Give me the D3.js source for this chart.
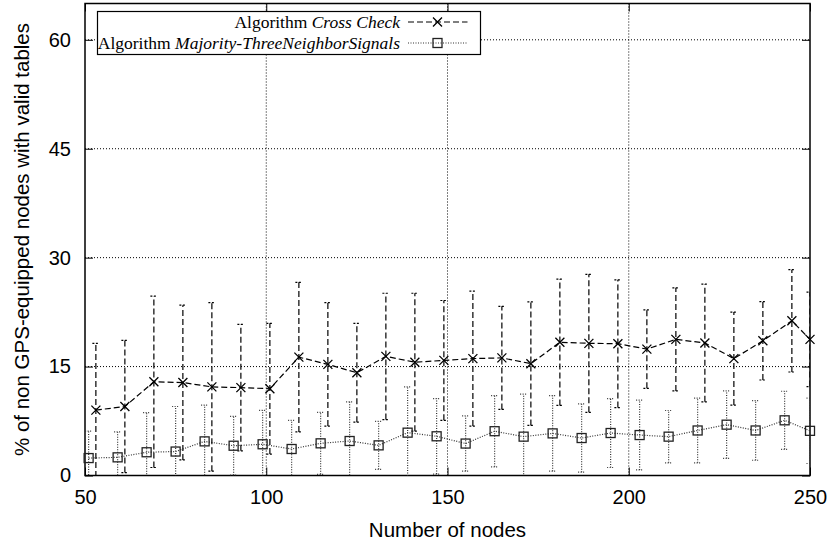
<!DOCTYPE html>
<html>
<head>
<meta charset="utf-8">
<script src="https://cdn.jsdelivr.net/npm/d3@7"></script>
<style>
    body { margin: 0; background: white; }
</style>
</head>
<body>
<div id="winArea"></div>
<script>
// series: Algorithm Cross Check
const ccNodes = [53, 61, 69, 77, 85, 93, 101, 109, 117, 125, 133, 141, 149, 157, 165, 173, 181, 189, 197, 205, 213, 221, 229, 237, 245, 250];
const ccValues = [9.0, 9.5, 12.9, 12.8, 12.2, 12.1, 11.95, 16.3, 15.3, 14.15, 16.4, 15.6, 15.85, 16.1, 16.2, 15.4, 18.35, 18.2, 18.15, 17.4, 18.75, 18.25, 16.1, 18.55, 21.3, 18.75];
const ccErrors = [9.2, 9.1, 11.8, 10.65, 11.6, 8.7, 9.0, 10.3, 8.5, 6.8, 8.7, 9.5, 8.25, 9.3, 7.1, 8.5, 8.7, 9.5, 8.8, 5.4, 7.1, 8.1, 6.4, 5.4, 7.05, 6.5];

// series: Algorithm Majority-ThreeNeighborSignals
const mtNodes = [51, 59, 67, 75, 83, 91, 99, 107, 115, 123, 131, 139, 147, 155, 163, 171, 179, 187, 195, 203, 211, 219, 227, 235, 243, 250];
const mtValues = [2.4, 2.5, 3.2, 3.3, 4.7, 4.1, 4.3, 3.65, 4.43, 4.75, 4.15, 5.9, 5.4, 4.4, 6.1, 5.35, 5.8, 5.16, 5.85, 5.57, 5.35, 6.2, 7.0, 6.2, 7.6, 6.15];
const mtErrors = [3.7, 3.5, 5.45, 6.2, 5.0, 4.05, 4.67, 3.95, 4.27, 5.4, 3.3, 6.3, 5.2, 3.8, 4.9, 5.85, 5.2, 4.7, 4.75, 4.8, 3.6, 4.45, 4.65, 4.1, 4.0, 4.5];

const xTicks = [50, 100, 150, 200, 250];
const yTicks = [0, 15, 30, 45, 60];
const xDomain = [50, 250];
const yDomain = [0, 65];

const xLabel = "Number of nodes";
const yLabel = "% of non GPS-equipped nodes with valid tables";

let margin = { top: 3.5, right: 25, bottom: 68.5, left: 85 };
const width = 835 - margin.left - margin.right;
const height = 544 - margin.top - margin.bottom;

const svg = d3.select("#winArea")
    .append("svg")
    .attr("width", 835)
    .attr("height", 544)
    .append("g")
    .attr("transform", `translate(${margin.left}, ${margin.top})`);

//scales
const xScale = d3.scaleLinear().domain(xDomain).range([0, width]);
const yScale = d3.scaleLinear().domain(yDomain).range([height, 0]);

//clip for error bars running below zero
svg.append("clipPath").attr("id", "plotClip")
    .append("rect").attr("width", width).attr("height", height);

//grid lines (dotted)
svg.append("g")
    .selectAll("line")
    .data(xTicks.slice(1, -1))
    .join("line")
    .attr("x1", d => xScale(d)).attr("x2", d => xScale(d))
    .attr("y1", 0).attr("y2", height)
    .attr("stroke", "#000").attr("stroke-width", 1)
    .attr("stroke-dasharray", "1,2");

svg.append("g")
    .selectAll("line")
    .data(yTicks.slice(1))
    .join("line")
    .attr("x1", 0).attr("x2", width)
    .attr("y1", d => yScale(d)).attr("y2", d => yScale(d))
    .attr("stroke", "#000").attr("stroke-width", 1)
    .attr("stroke-dasharray", "1,2");

//axes with ticks inward on all sides
svg.append("g")
    .attr("transform", `translate(0, ${height})`)
    .call(d3.axisBottom(xScale).tickValues(xTicks).tickSize(-8).tickPadding(14))
    .call(g => g.select(".domain").remove())
    .call(g => g.selectAll("text").attr("font-family", "Liberation Sans, Arial, sans-serif").attr("font-size", 20).attr("fill", "#000"));

svg.append("g")
    .call(d3.axisTop(xScale).tickValues(xTicks).tickSize(-8).tickFormat(""))
    .call(g => g.select(".domain").remove());

svg.append("g")
    .call(d3.axisLeft(yScale).tickValues(yTicks).tickSize(-8).tickPadding(14))
    .call(g => g.select(".domain").remove())
    .call(g => g.selectAll("text").attr("font-family", "Liberation Sans, Arial, sans-serif").attr("font-size", 20).attr("fill", "#000"));

svg.append("g")
    .attr("transform", `translate(${width}, 0)`)
    .call(d3.axisRight(yScale).tickValues(yTicks).tickSize(-8).tickFormat(""))
    .call(g => g.select(".domain").remove());

//plot border
svg.append("rect")
    .attr("width", width).attr("height", height)
    .attr("fill", "none").attr("stroke", "#000").attr("stroke-width", 1.5);

//axis labels
svg.append("text")
    .attr("x", width / 2)
    .attr("y", height + 61)
    .attr("text-anchor", "middle")
    .attr("font-family", "Liberation Sans, Arial, sans-serif")
    .attr("font-size", 20.5)
    .text(xLabel);

svg.append("text")
    .attr("transform", `translate(${-margin.left + 29}, ${height / 2}) rotate(-90)`)
    .attr("text-anchor", "middle")
    .attr("font-family", "Liberation Sans, Arial, sans-serif")
    .attr("font-size", 20.5)
    .text(yLabel);

const plot = svg.append("g").attr("clip-path", "url(#plotClip)");
const marks = svg.append("g");

//helper to draw one series with error bars
function drawSeries(nodes, values, errors, dash, color) {
    const pts = nodes.map((n, i) => ({ x: n, y: values[i], e: errors[i] }));
    const g = plot.append("g");

    //vertical error bars
    g.selectAll(".bar")
        .data(pts)
        .join("line")
        .attr("x1", d => xScale(d.x)).attr("x2", d => xScale(d.x))
        .attr("y1", d => yScale(d.y - d.e)).attr("y2", d => yScale(d.y + d.e))
        .attr("stroke", color).attr("stroke-width", 1.2)
        .attr("stroke-dasharray", dash);

    //caps
    const caps = pts.flatMap(d => [{ x: d.x, y: d.y + d.e }, { x: d.x, y: d.y - d.e }]);
    g.selectAll(".cap")
        .data(caps)
        .join("line")
        .attr("x1", d => xScale(d.x) - 3.5).attr("x2", d => xScale(d.x) + 3.5)
        .attr("y1", d => yScale(d.y)).attr("y2", d => yScale(d.y))
        .attr("stroke", color).attr("stroke-width", 1.2)
        .attr("stroke-dasharray", dash === "6,3" ? "2,1.5" : "1,1.5");

    //connecting line
    g.append("path")
        .datum(pts)
        .attr("fill", "none")
        .attr("stroke", color).attr("stroke-width", 1.2)
        .attr("stroke-dasharray", dash)
        .attr("d", d3.line().x(d => xScale(d.x)).y(d => yScale(d.y)));

    return pts;
}

function crossMark(sel, cx, cy) {
    sel.append("path")
        .attr("d", `M${cx - 4.5},${cy - 4.5}L${cx + 4.5},${cy + 4.5}M${cx - 4.5},${cy + 4.5}L${cx + 4.5},${cy - 4.5}`)
        .attr("stroke", "#000").attr("stroke-width", 1.3).attr("fill", "none");
}

function squareMark(sel, cx, cy) {
    sel.append("rect")
        .attr("x", cx - 4.5).attr("y", cy - 4.5)
        .attr("width", 9).attr("height", 9)
        .attr("fill", "none").attr("stroke", "#222").attr("stroke-width", 1.3);
}

const mtPts = drawSeries(mtNodes, mtValues, mtErrors, "1,1.5", "#333");
const ccPts = drawSeries(ccNodes, ccValues, ccErrors, "6,3", "#000");

//point markers are not clipped (gnuplot draws them over the border)
mtPts.forEach(d => squareMark(marks, xScale(d.x), yScale(d.y)));
ccPts.forEach(d => crossMark(marks, xScale(d.x), yScale(d.y)));

//legend
const legend = svg.append("g")
    .attr("transform", `translate(${97.5 - margin.left}, ${11.5 - margin.top})`);

legend.append("rect")
    .attr("width", 383).attr("height", 43)
    .attr("fill", "white").attr("stroke", "#000").attr("stroke-width", 1.2);

const legendRows = [
    { name: "Cross Check", dash: "6,3", color: "#000", mark: crossMark },
    { name: "Majority-ThreeNeighborSignals", dash: "1,1.5", color: "#333", mark: squareMark }
];

legendRows.forEach((r, i) => {
    const cy = 10.5 + i * 21;
    const t = legend.append("text")
        .attr("x", 302.5)
        .attr("y", cy + 5.5)
        .attr("text-anchor", "end")
        .attr("font-family", "Liberation Serif, Times New Roman, serif")
        .attr("font-size", 17.5);
    t.append("tspan").text("Algorithm ");
    t.append("tspan").attr("font-style", "italic").text(r.name);

    legend.append("line")
        .attr("x1", 310.5).attr("x2", 370)
        .attr("y1", cy).attr("y2", cy)
        .attr("stroke", r.color).attr("stroke-width", 1.2)
        .attr("stroke-dasharray", r.dash);
    r.mark(legend, 340, cy);
});
</script>
</body>
</html>
